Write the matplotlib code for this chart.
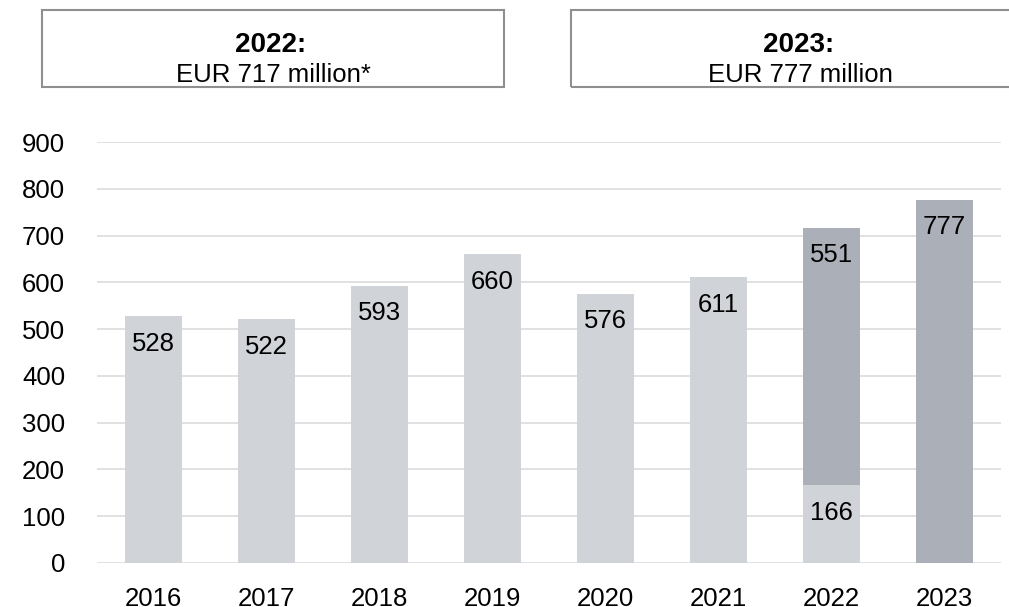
import numpy as np
import matplotlib.pyplot as plt
from matplotlib.patches import Rectangle

plt.rcParams['font.family'] = ['Liberation Sans', 'DejaVu Sans']

years = ['2016', '2017', '2018', '2019', '2020', '2021', '2022', '2023']
base = [528, 522, 593, 660, 576, 611, 166, 0]   # light segment
upper = [0, 0, 0, 0, 0, 0, 551, 777]            # dark segment
yticks = [0, 100, 200, 300, 400, 500, 600, 700, 800, 900]
box_titles = ['2022:', '2023:']
box_texts = ['EUR 717 million*', 'EUR 777 million']

light = '#d0d3d8'
dark = '#abafb8'
fs = 18.5

fig = plt.figure(figsize=(10.09, 6.07), dpi=100)
ax = fig.add_axes([97 / 1009, 1 - 563 / 607, 904 / 1009, 421 / 607])

x = np.arange(len(years))
ax.bar(x, base, width=0.5, color=light, zorder=2)
ax.bar(x, upper, width=0.5, bottom=base, color=dark, zorder=2)

# value labels sit just under the top of each segment
for i in range(len(years)):
    if base[i] > 0:
        ax.annotate(str(base[i]), (x[i], base[i]), xytext=(0, -25),
                    textcoords='offset points', ha='center', va='baseline',
                    fontsize=fs, color='black', zorder=3)
    if upper[i] > 0:
        ax.annotate(str(upper[i]), (x[i], base[i] + upper[i]), xytext=(0, -25),
                    textcoords='offset points', ha='center', va='baseline',
                    fontsize=fs, color='black', zorder=3)

ax.set_xlim(-0.5, len(years) - 0.5)
ax.set_ylim(0, 900)
ax.set_yticks(yticks)
ax.set_xticks(x)
ax.set_xticklabels(years)
ax.tick_params(axis='both', length=0, labelsize=fs, colors='black')
ax.tick_params(axis='y', pad=23)
ax.tick_params(axis='x', pad=17)
ax.grid(axis='y', color='#e1e1e1', lw=1.4, zorder=0)
ax.set_axisbelow(True)
for s in ax.spines.values():
    s.set_visible(False)

# header boxes (pixel coords converted to figure fraction)
W, H = 1009, 607
boxes = [(42, 504), (571, 1030)]
for (x0, x1), title, txt in zip(boxes, box_titles, box_texts):
    fig.add_artist(Rectangle((x0 / W, 1 - 87 / H), (x1 - x0) / W, 77 / H,
                             transform=fig.transFigure, fill=False,
                             edgecolor='#8f8f8f', lw=1.5))
    cx = (x0 + x1) / 2 / W
    fig.text(cx - 2 / W, 1 - 52.3 / H, title, ha='center', va='baseline',
             fontsize=20, fontweight='bold')
    fig.text(cx, 1 - 81.5 / H, txt, ha='center', va='baseline', fontsize=fs)

fig.savefig('out.png', dpi=100)
